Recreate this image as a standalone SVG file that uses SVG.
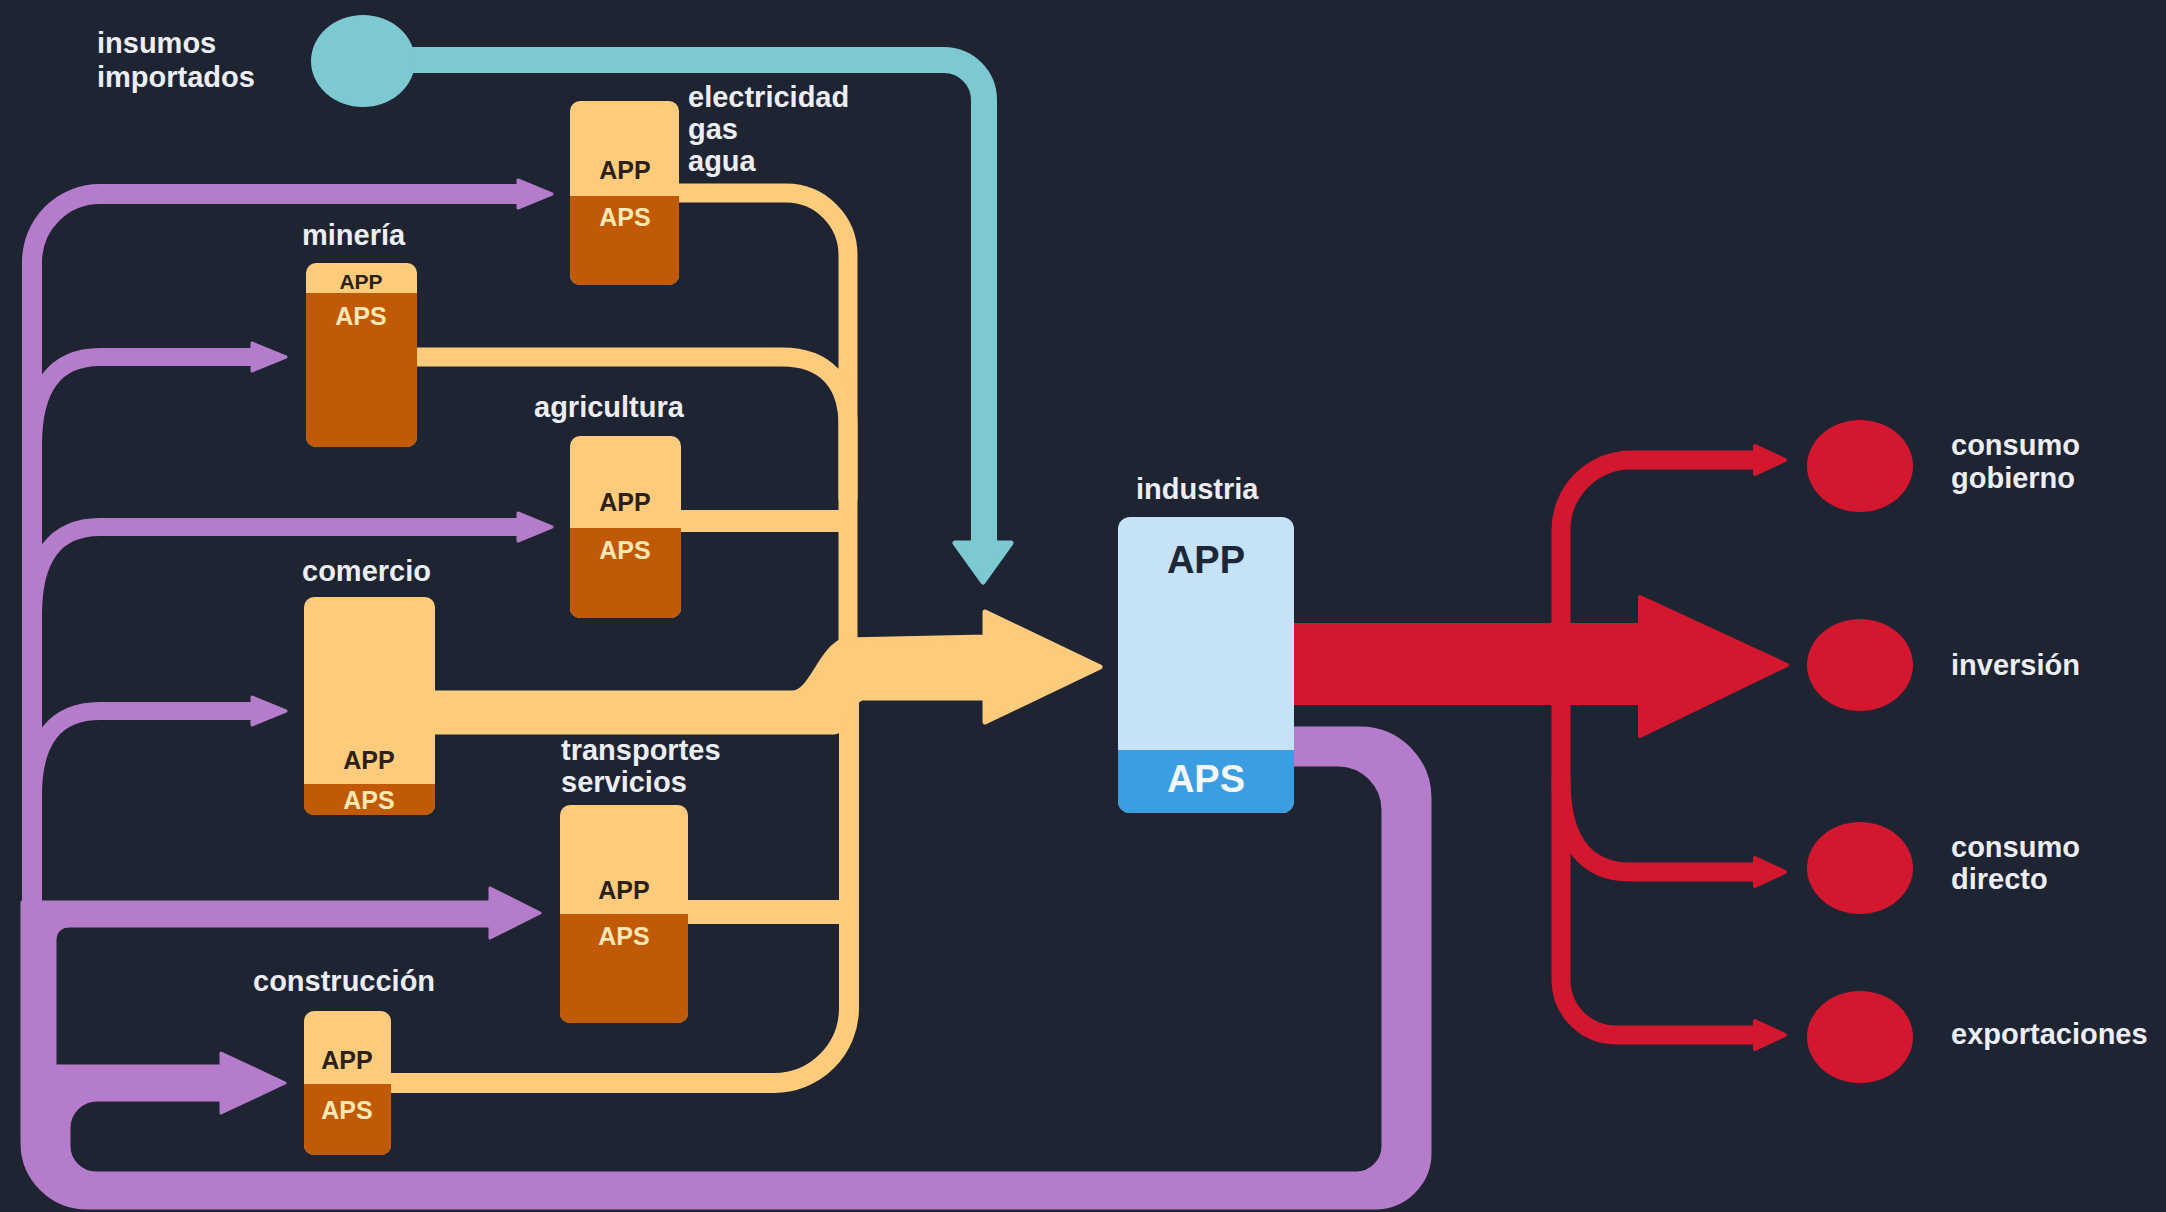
<svg xmlns="http://www.w3.org/2000/svg" width="2166" height="1212" viewBox="0 0 2166 1212">
<defs>
<style>
.lbl{font-family:"Liberation Sans",Arial,sans-serif;font-weight:bold;font-size:29px;fill:#eceef3}
.app{font-family:"Liberation Sans",Arial,sans-serif;font-weight:bold;font-size:25px;fill:#2b2118;text-anchor:middle}
.aps{font-family:"Liberation Sans",Arial,sans-serif;font-weight:bold;font-size:25px;fill:#fde7b5;text-anchor:middle}
.lt{fill:#fccb7c}
.dk{fill:#c05a07}
.py{fill:none;stroke:#fccb7c;stroke-linecap:butt}
.pp{fill:none;stroke:#b67ccc}
.ppf{fill:#b67ccc;stroke:#b67ccc;stroke-width:3;stroke-linejoin:round}
.pr{fill:none;stroke:#d3172f;stroke-width:19}
.rf{fill:#d3172f;stroke:#d3172f;stroke-width:4;stroke-linejoin:round}
</style>
</defs>
<rect width="2166" height="1212" fill="#1f2433"/>

<g id="connectors">
  <!-- teal imported inputs -->
  <path d="M 400,60 H 944 A 40 40 0 0 1 984,100 V 548" fill="none" stroke="#7dc9d2" stroke-width="26"/>
  <polygon points="955,543 1011,543 983,582" fill="#7dc9d2" stroke="#7dc9d2" stroke-width="5" stroke-linejoin="round"/>

  <!-- purple return loop from industria APS -->
  <path class="ppf" d="M 1294,728 H 1360 A 70 70 0 0 1 1430,798 V 1153 A 55 55 0 0 1 1375,1208 H 87 A 65 65 0 0 1 22,1143 V 902 H 490 V 888 L 540,913 L 490,938 V 926 H 70 Q 55,926 55,941 V 1066 H 221 V 1053 L 285,1083 L 221,1113 V 1100 H 97 A 28 28 0 0 0 69,1128 V 1146 A 27 27 0 0 0 96,1173 H 1356 A 27 27 0 0 0 1383,1146 V 810 A 45 45 0 0 0 1338,765 H 1294 Z"/>
  <path class="pp" stroke-width="20" d="M 32,935 V 262 A 68 68 0 0 1 100,194 H 522"/>
  <path class="pp" stroke-width="18" d="M 33,445 C 33,387 55,357 100,357 H 256"/>
  <path class="pp" stroke-width="18" d="M 33,615 C 33,557 55,527 100,527 H 522"/>
  <path class="pp" stroke-width="18" d="M 33,795 C 33,740 55,711 100,711 H 256"/>
  <polygon class="ppf" points="518,180 552,194 518,208"/>
  <polygon class="ppf" points="252,343 286,357 252,371"/>
  <polygon class="ppf" points="518,513 552,527 518,541"/>
  <polygon class="ppf" points="252,697 286,711 252,725"/>

  <!-- yellow flows into industria -->
  <path class="py" stroke-width="19" d="M 679,193 H 786 A 62 62 0 0 1 848,255 V 660"/>
  <path class="py" stroke-width="19" d="M 417,357 H 782 C 825,357 848,382 848,425 V 500"/>
  <path class="py" stroke-width="22" d="M 681,521 H 849"/>
  <path class="py" stroke-width="24" d="M 688,912 H 849"/>
  <path class="py" stroke-width="20" d="M 849,680 V 1008 A 75 75 0 0 1 774,1083 H 391"/>
  <path d="M 435,693 H 792 C 812,693 820,648 845,640 L 985,637 V 612 L 1100,667 L 985,722 V 698 L 862,698 C 850,700 846,732 834,732 H 435 Z" fill="#fccb7c" stroke="#fccb7c" stroke-width="5" stroke-linejoin="round"/>

  <!-- red outputs -->
  <path class="rf" d="M 1294,625 H 1640 V 597 L 1787,665 L 1640,736 V 703 H 1294 Z"/>
  <path class="pr" d="M 1561,640 V 530 A 70 70 0 0 1 1631,460 H 1758"/>
  <path class="pr" d="M 1561,690 V 980 A 55 55 0 0 0 1616,1035 H 1758"/>
  <path class="pr" d="M 1561,780 C 1561,840 1585,872 1630,872 H 1758"/>
  <polygon class="rf" points="1755,446 1785,460 1755,474"/>
  <polygon class="rf" points="1755,858 1785,872 1755,886"/>
  <polygon class="rf" points="1755,1021 1785,1035 1755,1049"/>
</g>

<g id="insumos-importados">
  <ellipse cx="363" cy="61" rx="52" ry="46" fill="#7dc9d2"/>
  <text class="lbl" x="97" y="53">insumos</text>
  <text class="lbl" x="97" y="87">importados</text>
</g>

<g id="electricidad">
  <rect class="lt" x="570" y="101" width="109" height="184" rx="10"/>
  <rect class="dk" x="570" y="196" width="109" height="89" rx="10"/>
  <rect class="dk" x="570" y="196" width="109" height="14"/>
  <text class="app" x="625" y="179">APP</text>
  <text class="aps" x="625" y="226">APS</text>
  <text class="lbl" x="688" y="107">electricidad</text>
  <text class="lbl" x="688" y="139">gas</text>
  <text class="lbl" x="688" y="171">agua</text>
</g>

<g id="mineria">
  <rect class="lt" x="306" y="263" width="111" height="184" rx="10"/>
  <rect class="dk" x="306" y="293" width="111" height="154" rx="10"/>
  <rect class="dk" x="306" y="293" width="111" height="14"/>
  <text class="app" x="361" y="289" style="font-size:21px">APP</text>
  <text class="aps" x="361" y="325">APS</text>
  <text class="lbl" x="302" y="245">minería</text>
</g>

<g id="agricultura">
  <rect class="lt" x="570" y="436" width="111" height="182" rx="10"/>
  <rect class="dk" x="570" y="528" width="111" height="90" rx="10"/>
  <rect class="dk" x="570" y="528" width="111" height="14"/>
  <text class="app" x="625" y="511">APP</text>
  <text class="aps" x="625" y="559">APS</text>
  <text class="lbl" x="534" y="417">agricultura</text>
</g>

<g id="comercio">
  <rect class="lt" x="304" y="597" width="131" height="218" rx="10"/>
  <rect class="dk" x="304" y="784" width="131" height="31" rx="10"/>
  <rect class="dk" x="304" y="784" width="131" height="12"/>
  <text class="app" x="369" y="769">APP</text>
  <text class="aps" x="369" y="809">APS</text>
  <text class="lbl" x="302" y="581">comercio</text>
</g>

<g id="transportes-servicios">
  <rect class="lt" x="560" y="805" width="128" height="218" rx="10"/>
  <rect class="dk" x="560" y="914" width="128" height="109" rx="10"/>
  <rect class="dk" x="560" y="914" width="128" height="14"/>
  <text class="app" x="624" y="899">APP</text>
  <text class="aps" x="624" y="945">APS</text>
  <text class="lbl" x="561" y="760">transportes</text>
  <text class="lbl" x="561" y="792">servicios</text>
</g>

<g id="construccion">
  <rect class="lt" x="304" y="1011" width="87" height="144" rx="10"/>
  <rect class="dk" x="304" y="1084" width="87" height="71" rx="10"/>
  <rect class="dk" x="304" y="1084" width="87" height="14"/>
  <text class="app" x="347" y="1069">APP</text>
  <text class="aps" x="347" y="1119">APS</text>
  <text class="lbl" x="253" y="991">construcción</text>
</g>

<g id="industria">
  <rect x="1118" y="517" width="176" height="296" rx="12" fill="#c5e2f6"/>
  <rect x="1118" y="750" width="176" height="63" rx="12" fill="#3b9de2"/>
  <rect x="1118" y="750" width="176" height="16" fill="#3b9de2"/>
  <text x="1206" y="573" text-anchor="middle" style="font-family:'Liberation Sans',Arial,sans-serif;font-weight:bold;font-size:38px;fill:#1c2838">APP</text>
  <text x="1206" y="792" text-anchor="middle" style="font-family:'Liberation Sans',Arial,sans-serif;font-weight:bold;font-size:38px;fill:#f2f7fc">APS</text>
  <text class="lbl" x="1136" y="499">industria</text>
</g>

<g id="consumo-gobierno">
  <ellipse cx="1860" cy="466" rx="53" ry="46" fill="#d3172f"/>
  <text class="lbl" x="1951" y="455">consumo</text>
  <text class="lbl" x="1951" y="488">gobierno</text>
</g>
<g id="inversion">
  <ellipse cx="1860" cy="665" rx="53" ry="46" fill="#d3172f"/>
  <text class="lbl" x="1951" y="675">inversión</text>
</g>
<g id="consumo-directo">
  <ellipse cx="1860" cy="868" rx="53" ry="46" fill="#d3172f"/>
  <text class="lbl" x="1951" y="857">consumo</text>
  <text class="lbl" x="1951" y="889">directo</text>
</g>
<g id="exportaciones">
  <ellipse cx="1860" cy="1037" rx="53" ry="46" fill="#d3172f"/>
  <text class="lbl" x="1951" y="1044">exportaciones</text>
</g>
</svg>
